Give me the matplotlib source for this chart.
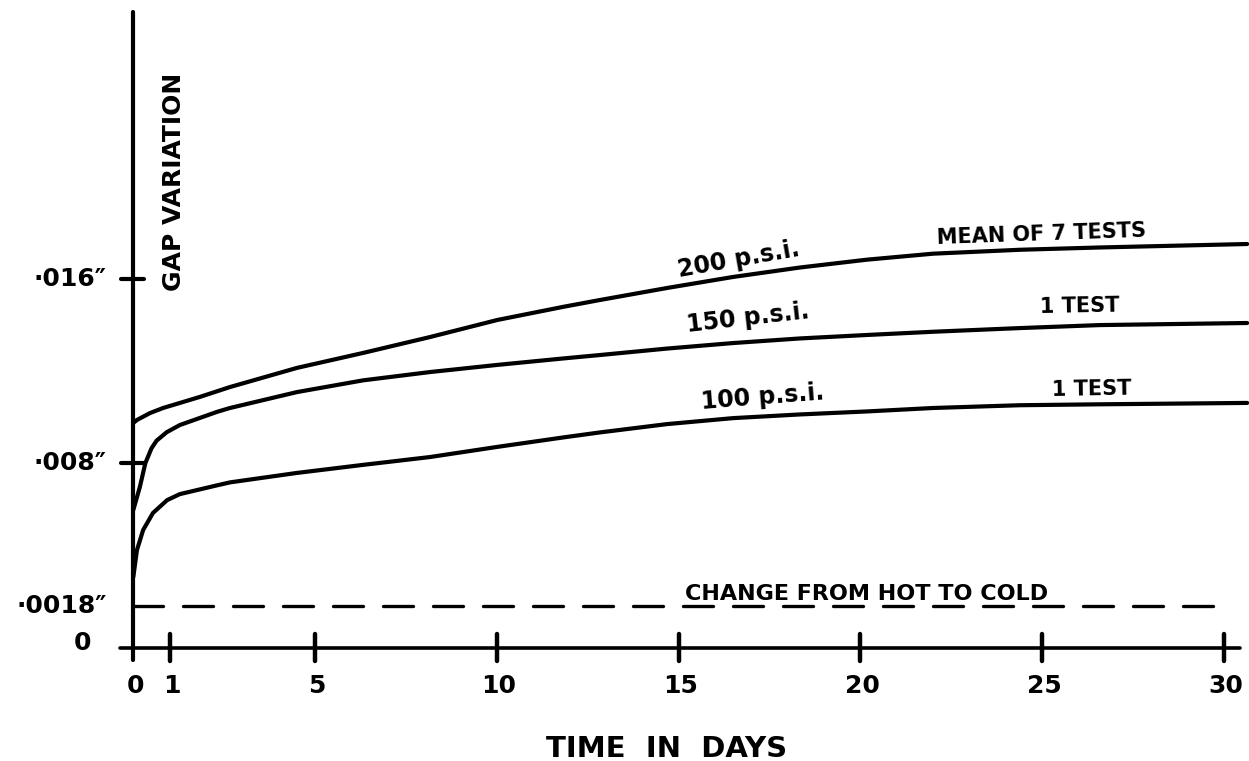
import matplotlib.pyplot as plt

plt.rcParams["font.family"] = ["DejaVu Sans"]
plt.rcParams["lines.scale_dashes"] = False

# gap variation in thousandths of an inch
days_200 = [0, 0.10, 0.46, 0.82, 1.83, 2.66, 4.50, 6.32, 8.16, 10.01, 11.82,
            12.84, 14.68, 16.50, 18.34, 20.18, 22.00, 24.39, 26.59, 30.64]
gap_200 = [9.75, 9.88, 10.18, 10.40, 10.88, 11.31, 12.14, 12.79, 13.48, 14.22,
           14.79, 15.09, 15.61, 16.09, 16.50, 16.84, 17.10, 17.27, 17.37, 17.52]

days_150 = [0, 0.18, 0.33, 0.50, 0.64, 0.92, 1.28, 2.30, 2.66, 4.50, 6.32,
            8.16, 10.01, 11.82, 12.84, 14.68, 16.50, 18.34, 20.18, 22.00,
            24.39, 26.59, 30.64]
gap_150 = [5.97, 6.97, 8.00, 8.65, 8.98, 9.35, 9.66, 10.23, 10.40, 11.09,
           11.60, 11.96, 12.27, 12.55, 12.70, 12.98, 13.22, 13.42, 13.57,
           13.71, 13.87, 14.00, 14.09]

days_100 = [0, 0.10, 0.27, 0.46, 0.54, 0.93, 1.28, 2.30, 2.66, 4.50, 6.32,
            8.16, 10.01, 11.82, 12.84, 14.68, 16.50, 18.34, 20.18, 22.00,
            24.39, 26.59, 30.64]
gap_100 = [3.06, 4.23, 5.10, 5.62, 5.84, 6.40, 6.66, 7.04, 7.17, 7.58, 7.93,
           8.27, 8.71, 9.12, 9.34, 9.70, 9.96, 10.12, 10.25, 10.40, 10.52,
           10.56, 10.62]

hot_to_cold = 1.8
hot_to_cold_days = [0, 30.2]

x_ticks = [1, 5, 10, 15, 20, 25, 30]
x_tick_labels = ["0", "1", "5", "10", "15", "20", "25", "30"]
y_ticks = [16, 8]
y_tick_labels = ["\u00b7016\u2033", "\u00b7008\u2033", "\u00b70018\u2033"]
y_label_values = [16, 8, 1.8]

fig = plt.figure(figsize=(12.49, 7.61), dpi=100)
ax = fig.add_axes([0, 0, 1, 1])
ax.set_xlim(-3.667, 30.69)
ax.set_ylim(-4.928, 28.115)
ax.axis("off")

ink = "black"

# hand drawn axes
ax.plot([0, 0], [27.6, -0.54], color=ink, lw=3.0, solid_capstyle="round")
ax.plot([-0.37, 30.45], [0, 0], color=ink, lw=2.6, solid_capstyle="round")
for t in x_ticks:
    ax.plot([t, t], [0.6, -0.6], color=ink, lw=3.2, solid_capstyle="round")
for t in y_ticks:
    ax.plot([-0.35, 0.3], [t, t], color=ink, lw=3.0, solid_capstyle="round")

# curves
for d, g in [(days_200, gap_200), (days_150, gap_150), (days_100, gap_100)]:
    ax.plot(d, g, color=ink, lw=3.0, solid_capstyle="round",
            solid_joinstyle="round")

ax.plot(hot_to_cold_days, [hot_to_cold, hot_to_cold], color=ink, lw=2.4,
        dashes=(21.6, 14.4), dash_capstyle="round")

# tick labels
for lab, x in zip(x_tick_labels, [0] + x_ticks):
    ax.text(x + 0.05, -1.67, lab, ha="center", va="center", fontsize=18,
            fontweight="bold")
for lab, y in zip(y_tick_labels, y_label_values):
    ax.text(-0.73, y, lab, ha="right", va="center", fontsize=18,
            fontweight="bold")
ax.text(-1.41, 0.2, "0", ha="center", va="center", fontsize=18,
        fontweight="bold")

# annotations
ax.text(16.64, 16.87, "200 p.s.i.", ha="center", va="center", rotation=10,
        fontsize=17, fontweight="bold")
ax.text(24.99, 17.96, "MEAN OF 7 TESTS", ha="center", va="center",
        rotation=2, fontsize=15, fontweight="bold")
ax.text(16.91, 14.31, "150 p.s.i.", ha="center", va="center", rotation=6.5,
        fontsize=17, fontweight="bold")
ax.text(26.04, 14.83, "1 TEST", ha="center", va="center", rotation=1,
        fontsize=15, fontweight="bold")
ax.text(17.30, 10.88, "100 p.s.i.", ha="center", va="center", rotation=4.5,
        fontsize=17, fontweight="bold")
ax.text(26.37, 11.22, "1 TEST", ha="center", va="center", rotation=1,
        fontsize=15, fontweight="bold")
ax.text(20.16, 2.32, "CHANGE FROM HOT TO COLD", ha="center", va="center",
        fontsize=16, fontweight="bold")

ax.text(1.12, 20.21, "GAP VARIATION", ha="center", va="center", rotation=90,
        fontsize=18, fontweight="bold")
ax.text(14.68, -4.41, "TIME  IN  DAYS", ha="center", va="center",
        fontsize=21, fontweight="bold")

fig.savefig("out.png", dpi=100, facecolor="white")
